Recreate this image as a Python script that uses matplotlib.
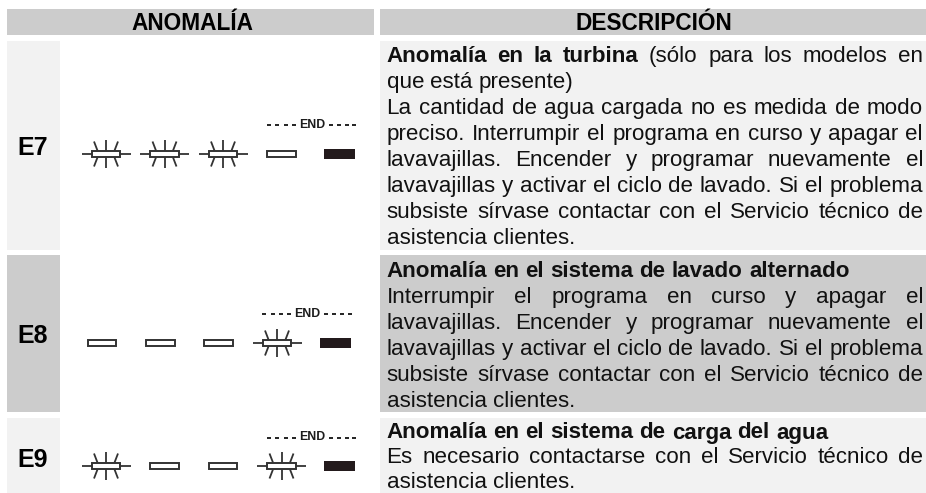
import matplotlib
matplotlib.use("Agg")
import matplotlib.pyplot as plt
from matplotlib.patches import Rectangle

plt.rcParams['font.family'] = ['Liberation Sans', 'DejaVu Sans']

W, H = 926, 493
headers = ["ANOMALÍA", "DESCRIPCIÓN"]
codes = ["E7", "E8", "E9"]
# L = lit, F = flashing, O = off
states = [["F", "F", "F", "O", "L"],
          ["O", "O", "O", "F", "L"],
          ["F", "O", "O", "F", "L"]]
row_tops = [41, 255, 418]
row_bottoms = [250, 412, 493]
row_colors = ["#f2f2f2", "#cccccc", "#f2f2f2"]
code_y = [148, 336, 460]
icon_y = [154, 343, 466]
end_y = [125, 314, 437.5]
icon_x = [[106, 164.5, 223, 281.5, 339.5],
          [102, 160.5, 218.5, 277, 335.5],
          [106, 164.5, 223, 281.5, 339.5]]
# (text, bold-word-count, justified)
descriptions = [
    [("Anomalía en la turbina (sólo para los modelos en", 4, True),
     ("que está presente)", 0, False),
     ("La cantidad de agua cargada no es medida de modo", 0, True),
     ("preciso. Interrumpir el programa en curso y apagar el", 0, True),
     ("lavavajillas. Encender y programar nuevamente el", 0, True),
     ("lavavajillas y activar el ciclo de lavado. Si el problema", 0, True),
     ("subsiste sírvase contactar con el Servicio técnico de", 0, True),
     ("asistencia clientes.", 0, False)],
    [("Anomalía en el sistema de lavado alternado", 7, False),
     ("Interrumpir el programa en curso y apagar el", 0, True),
     ("lavavajillas. Encender y programar nuevamente el", 0, True),
     ("lavavajillas y activar el ciclo de lavado. Si el problema", 0, True),
     ("subsiste sírvase contactar con el Servicio técnico de", 0, True),
     ("asistencia clientes.", 0, False)],
    [("Anomalía en el sistema de carga del agua", 8, False),
     ("Es necesario contactarse con el Servicio técnico de", 0, True),
     ("asistencia clientes.", 0, False)],
]
first_baseline = [62, 277, 438.5]
line_pitch = [26.0, 26.0, 24.8]

fig = plt.figure(figsize=(W / 100, H / 100), dpi=100)
ax = fig.add_axes([0, 0, 1, 1])
ax.set_xlim(0, W)
ax.set_ylim(H, 0)
ax.axis("off")

ink = "#1c1c1c"
BODY = 16.15
TL, TR = 386.5, 923


def box(x0, y0, x1, y1, c):
    ax.add_patch(Rectangle((x0, y0), x1 - x0, y1 - y0, fc=c, ec="none", zorder=1))


def seg(x0, y0, x1, y1, lw=1.3, c="#333333"):
    ax.plot([x0, x1], [y0, y1], color=c, lw=lw, solid_capstyle="butt", zorder=3)


def lamp(cx, cy, state):
    if state == "L":
        box(cx - 15.3, cy - 4.6, cx + 15.3, cy + 4.6, "#231a1c")
        return
    ax.add_patch(Rectangle((cx - 14.2, cy - 3.4), 28.4, 6.8, fc="white", ec="#333333", lw=1.4, zorder=4))
    if state == "F":
        seg(cx - 24.5, cy, cx - 14, cy)
        seg(cx + 14, cy, cx + 24.5, cy)
        for s in (-1, 1):
            seg(cx, cy + s * 3.4, cx, cy + s * 13.8)
            seg(cx - 8.5, cy + s * 3.4, cx - 12, cy + s * 12.5)
            seg(cx + 8.5, cy + s * 3.4, cx + 12, cy + s * 12.5)


def end_label(x0, y):
    ax.text(x0 + 45.5, y, "END", fontsize=8.8, fontweight="bold", color=ink,
            ha="center", va="center", zorder=4)
    for dx in (0, 8.5, 17, 25.2, 62, 70, 78, 85.5):
        seg(x0 + dx, y, x0 + dx + 4, y, lw=1.4, c="#222222")


box(7, 9, 374, 35, "#cccccc")
box(380, 9, 926, 35, "#cccccc")
ax.text(192, 23.5, headers[0], fontsize=16.3, fontweight="bold", color="black", ha="center", va="center")
ax.text(654, 23.5, headers[1], fontsize=16.3, fontweight="bold", color="black", ha="center", va="center")

renderer = fig.canvas.get_renderer()


def width(s, bold):
    t = ax.text(0, 0, s, fontsize=BODY, fontweight="bold" if bold else "normal")
    w = t.get_window_extent(renderer).width
    t.remove()
    return w


def write_line(txt, nbold, justify, base):
    words = txt.split(" ")
    ws = [width(w, i < nbold) for i, w in enumerate(words)]
    gap = (TR - TL - sum(ws)) / (len(words) - 1) if justify else BODY * 100 / 72 * 0.278
    x = TL
    for i, w in enumerate(words):
        ax.text(x, base, w, fontsize=BODY, fontweight="bold" if i < nbold else "normal",
                color="#111111", ha="left", va="baseline", zorder=5)
        x += ws[i] + gap


for r in range(3):
    box(7, row_tops[r], 60, row_bottoms[r], row_colors[r])
    box(380, row_tops[r], 926, row_bottoms[r], row_colors[r])
    ax.text(33, code_y[r], codes[r], fontsize=18, fontweight="bold", color="black",
            ha="center", va="center", zorder=5)
    for cx, st in zip(icon_x[r], states[r]):
        lamp(cx, icon_y[r], st)
    end_label(icon_x[r][3] - 15, end_y[r])
    for i, (txt, nb, j) in enumerate(descriptions[r]):
        write_line(txt, nb, j, first_baseline[r] + i * line_pitch[r])

fig.savefig("out.png", dpi=100)
